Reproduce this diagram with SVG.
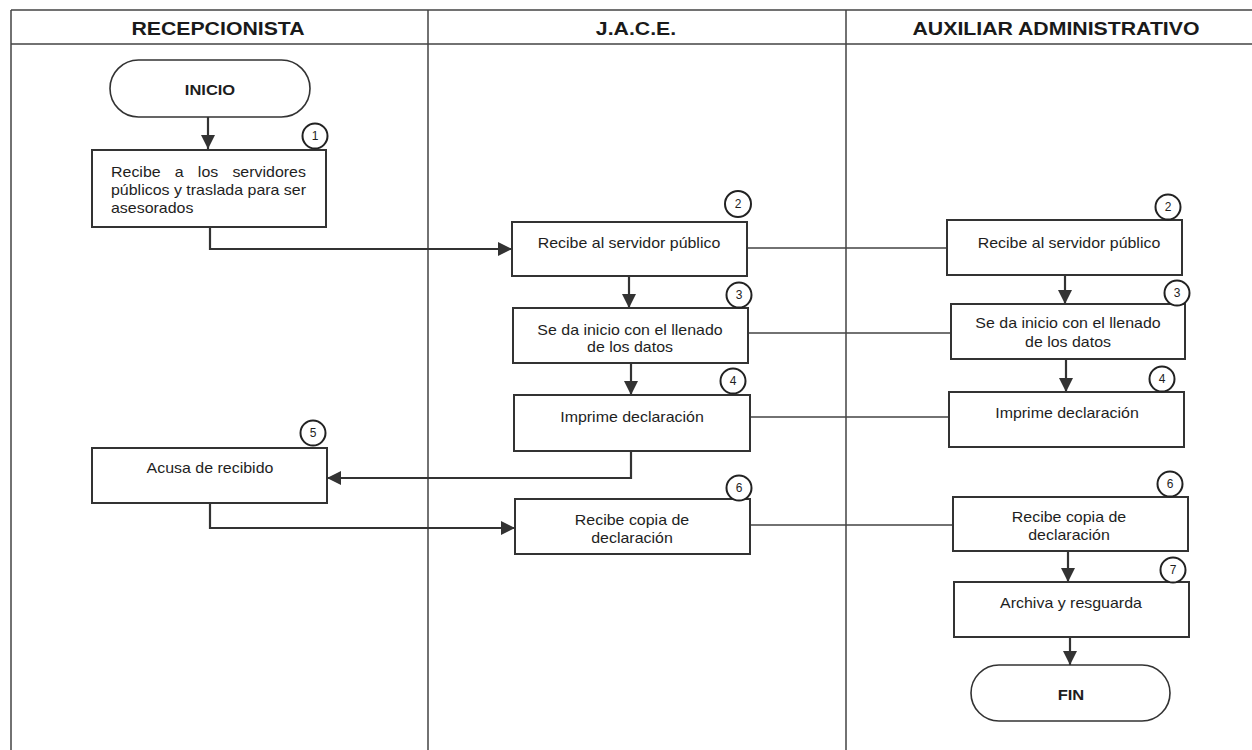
<svg xmlns="http://www.w3.org/2000/svg" width="1252" height="750" viewBox="0 0 1252 750">
<style>
.lane{stroke:#444;stroke-width:1.5;fill:none}
.box{fill:#fff;stroke:#333;stroke-width:2}
.term{fill:#fff;stroke:#333;stroke-width:1.6}
.num{fill:#fff;stroke:#222;stroke-width:2}
.flow{stroke:#333;stroke-width:2.2;fill:none}
.link{stroke:#444;stroke-width:1.3;fill:none}
.t{font-family:"Liberation Sans",Arial,sans-serif;font-size:14px;fill:#1e1e1e;text-anchor:middle}
.l{text-anchor:start}
.h{font-size:18.5px;font-weight:bold;fill:#1a1a1a}
.b{font-size:15px;font-weight:bold}
.n{font-size:12px}
</style>
<defs>
<marker id="arr" viewBox="0 0 10 10" refX="10" refY="5" markerWidth="14" markerHeight="14" markerUnits="userSpaceOnUse" orient="auto">
<path d="M0,0 L10,5 L0,10 z" fill="#333"/>
</marker>
</defs>
<rect width="1252" height="750" fill="#fff"/>
<g id="lanes">
<path class="lane" d="M11,10 V750 M428,10 V750 M846,10 V750 M11,10 H1252 M11,44 H1252"/>
<text class="t h" transform="translate(218 35) scale(1.15 1)">RECEPCIONISTA</text>
<text class="t h" transform="translate(636 35) scale(1.15 1)">J.A.C.E.</text>
<text class="t h" transform="translate(1056 35) scale(1.15 1)">AUXILIAR ADMINISTRATIVO</text>
</g>
<g id="connectors">
<path class="flow" d="M208,117 V149" marker-end="url(#arr)"/>
<path class="flow" d="M210,227 V249 H512" marker-end="url(#arr)"/>
<path class="flow" d="M629,276 V308" marker-end="url(#arr)"/>
<path class="flow" d="M631,363 V395" marker-end="url(#arr)"/>
<path class="flow" d="M631,451 V478 H327" marker-end="url(#arr)"/>
<path class="flow" d="M210,503 V528 H515" marker-end="url(#arr)"/>
<path class="flow" d="M1065,275 V304" marker-end="url(#arr)"/>
<path class="flow" d="M1066,359 V392" marker-end="url(#arr)"/>
<path class="flow" d="M1068,551 V582" marker-end="url(#arr)"/>
<path class="flow" d="M1070,637 V665" marker-end="url(#arr)"/>
<path class="link" d="M747,248 H947 M748,333 H951 M750,417 H949 M750,525 H953"/>
</g>
<g id="inicio">
<rect class="term" x="110" y="60" width="200" height="57" rx="28.5"/>
<text class="t b" transform="translate(210 95) scale(1.1 1)">INICIO</text>
</g>
<g id="n1">
<rect class="box" x="92" y="150" width="234" height="77"/>
<text class="t l" transform="translate(111 177) scale(1.14 1)"><tspan x="0">Recibe</tspan><tspan x="56">a</tspan><tspan x="76.2">los</tspan><tspan x="106.5">servidores</tspan></text>
<text class="t l" transform="translate(111 195) scale(1.14 1)">públicos y traslada para ser</text>
<text class="t l" transform="translate(111 213) scale(1.14 1)">asesorados</text>
<circle class="num" cx="315" cy="136" r="12.5"/>
<text class="t n" x="315" y="140">1</text>
</g>
<g id="n2">
<rect class="box" x="512" y="222" width="235" height="54"/>
<text class="t" transform="translate(629 248) scale(1.14 1)">Recibe al servidor público</text>
<circle class="num" cx="738" cy="204" r="13"/>
<text class="t n" x="738" y="208">2</text>
</g>
<g id="n3">
<rect class="box" x="513" y="308" width="235" height="55"/>
<text class="t" transform="translate(630 335) scale(1.14 1)">Se da inicio con el llenado</text>
<text class="t" transform="translate(630 352) scale(1.14 1)">de los datos</text>
<circle class="num" cx="739" cy="295" r="12.5"/>
<text class="t n" x="739" y="299">3</text>
</g>
<g id="n4">
<rect class="box" x="514" y="395" width="236" height="56"/>
<text class="t" transform="translate(632 422) scale(1.14 1)">Imprime declaración</text>
<circle class="num" cx="733" cy="381" r="12.5"/>
<text class="t n" x="733" y="385">4</text>
</g>
<g id="n5">
<rect class="box" x="92" y="448" width="235" height="55"/>
<text class="t" transform="translate(210 473) scale(1.14 1)">Acusa de recibido</text>
<circle class="num" cx="313" cy="433" r="12.5"/>
<text class="t n" x="313" y="437">5</text>
</g>
<g id="n6">
<rect class="box" x="515" y="499" width="235" height="55"/>
<text class="t" transform="translate(632 525) scale(1.14 1)">Recibe copia de</text>
<text class="t" transform="translate(632 543) scale(1.14 1)">declaración</text>
<circle class="num" cx="739" cy="488" r="12.5"/>
<text class="t n" x="739" y="492">6</text>
</g>
<g id="a2">
<rect class="box" x="947" y="220" width="235" height="55"/>
<text class="t" transform="translate(1069 248) scale(1.14 1)">Recibe al servidor público</text>
<circle class="num" cx="1168" cy="207" r="12.5"/>
<text class="t n" x="1168" y="211">2</text>
</g>
<g id="a3">
<rect class="box" x="951" y="304" width="234" height="55"/>
<text class="t" transform="translate(1068 328) scale(1.14 1)">Se da inicio con el llenado</text>
<text class="t" transform="translate(1068 347) scale(1.14 1)">de los datos</text>
<circle class="num" cx="1177" cy="293" r="12.5"/>
<text class="t n" x="1177" y="297">3</text>
</g>
<g id="a4">
<rect class="box" x="949" y="392" width="235" height="55"/>
<text class="t" transform="translate(1067 418) scale(1.14 1)">Imprime declaración</text>
<circle class="num" cx="1162" cy="379" r="12.5"/>
<text class="t n" x="1162" y="383">4</text>
</g>
<g id="a6">
<rect class="box" x="953" y="497" width="235" height="54"/>
<text class="t" transform="translate(1069 522) scale(1.14 1)">Recibe copia de</text>
<text class="t" transform="translate(1069 540) scale(1.14 1)">declaración</text>
<circle class="num" cx="1170" cy="484" r="12.5"/>
<text class="t n" x="1170" y="488">6</text>
</g>
<g id="a7">
<rect class="box" x="954" y="582" width="235" height="55"/>
<text class="t" transform="translate(1071 608) scale(1.14 1)">Archiva y resguarda</text>
<circle class="num" cx="1173" cy="570" r="12.5"/>
<text class="t n" x="1173" y="574">7</text>
</g>
<g id="fin">
<rect class="term" x="971" y="665" width="199" height="56" rx="28"/>
<text class="t b" transform="translate(1071 700) scale(1.1 1)">FIN</text>
</g>
</svg>
